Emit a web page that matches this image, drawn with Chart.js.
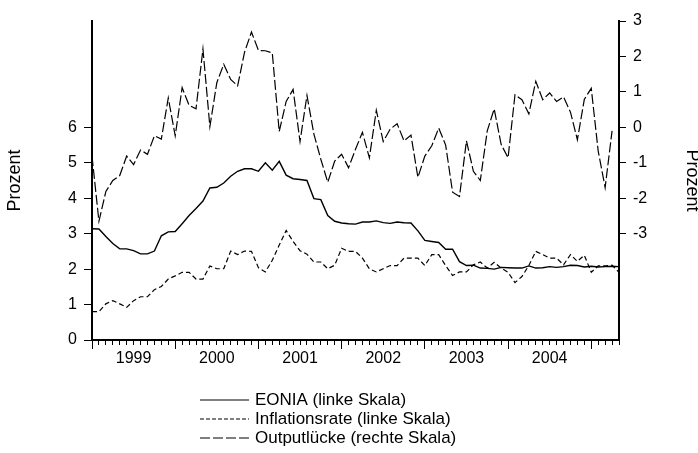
<!DOCTYPE html>
<html>
<head>
<meta charset="utf-8">
<script src="https://cdn.jsdelivr.net/npm/chart.js@4.4.1/dist/chart.umd.min.js"></script>
<style>
  html, body { margin: 0; padding: 0; background: #fff; }
  #wrap { width: 698px; height: 453px; }
</style>
</head>
<body>
<div id="wrap"><canvas id="chart" width="698" height="453"></canvas></div>
<script>
// monthly data, 1999M01 .. 2005M05 (index 0 = Jan 1999)
const yearLabels = ['1999', '2000', '2001', '2002', '2003', '2004'];

const eonia = [
  3.14, 3.13, 2.92, 2.72, 2.57, 2.57, 2.52, 2.43, 2.43, 2.51, 2.94, 3.05,
  3.06, 3.28, 3.51, 3.71, 3.92, 4.29, 4.31, 4.43, 4.62, 4.76, 4.83, 4.83,
  4.76, 5.00, 4.79, 5.04, 4.65, 4.55, 4.53, 4.50, 3.99, 3.96, 3.51, 3.35,
  3.30, 3.28, 3.27, 3.33, 3.33, 3.36, 3.31, 3.29, 3.33, 3.31, 3.30, 3.08,
  2.81, 2.78, 2.75, 2.56, 2.56, 2.21, 2.10, 2.11, 2.03, 2.02, 2.00, 2.05,
  2.04, 2.03, 2.03, 2.09, 2.03, 2.04, 2.07, 2.05, 2.07, 2.11, 2.10, 2.06,
  2.08, 2.06, 2.07, 2.08, 2.07
];

const inflation = [
  0.80, 0.80, 1.02, 1.11, 1.02, 0.92, 1.11, 1.22, 1.22, 1.42, 1.51, 1.72,
  1.81, 1.91, 1.91, 1.72, 1.72, 2.09, 2.01, 2.01, 2.51, 2.41, 2.51, 2.50,
  2.04, 1.92, 2.25, 2.68, 3.09, 2.78, 2.52, 2.42, 2.20, 2.20, 2.01, 2.11,
  2.59, 2.50, 2.50, 2.31, 2.01, 1.92, 2.01, 2.10, 2.10, 2.31, 2.31, 2.31,
  2.10, 2.41, 2.41, 2.10, 1.82, 1.92, 1.92, 2.12, 2.20, 2.03, 2.19, 2.03,
  1.91, 1.62, 1.79, 2.10, 2.50, 2.41, 2.31, 2.31, 2.12, 2.41, 2.22, 2.39,
  1.91, 2.09, 2.09, 2.11, 1.91
];

// right scale, one observation fewer
const outputGap = [
  -0.81, -2.65, -1.81, -1.50, -1.36, -0.81, -1.05, -0.64, -0.76, -0.24, -0.33, 0.83,
  -0.24, 1.12, 0.62, 0.52, 2.21, 0.02, 1.26, 1.78, 1.35, 1.17, 2.12, 2.69,
  2.17, 2.16, 2.10, -0.12, 0.73, 1.07, -0.40, 0.90, -0.19, -0.90, -1.55, -0.95,
  -0.76, -1.14, -0.62, -0.14, -0.86, 0.48, -0.40, -0.05, 0.10, -0.38, -0.22, -1.41,
  -0.81, -0.52, -0.02, -0.50, -1.83, -1.95, -0.38, -1.24, -1.50, -0.10, 0.52, -0.48,
  -0.86, 0.92, 0.78, 0.38, 1.30, 0.78, 0.97, 0.73, 0.86, 0.43, -0.35, 0.79,
  1.10, -0.67, -1.70, -0.10
];

const leftTicks = [0, 1, 2, 3, 4, 5, 6];
const rightTicks = [-3, -2, -1, 0, 1, 2, 3];
const seriesNames = ['EONIA (linke Skala)', 'Inflationsrate (linke Skala)', 'Outputlücke (rechte Skala)'];

const FONT = 'Liberation Sans, Arial, sans-serif';
Chart.defaults.font.family = FONT;
Chart.defaults.font.size = 16;
Chart.defaults.color = '#000';

const nMonths = eonia.length;
const toXY = arr => arr.map((v, i) => ({ x: i, y: v }));

// legend below the plot, one entry per row
const stackedLegend = {
  id: 'stackedLegend',
  afterDraw(chart) {
    const ctx = chart.ctx;
    const x0 = 200, x1 = 249, y0 = 400, rowH = 19;
    ctx.save();
    ctx.font = '17px ' + FONT;
    ctx.fillStyle = '#000';
    ctx.textBaseline = 'middle';
    chart.data.datasets.forEach((ds, i) => {
      const y = y0 + i * rowH;
      ctx.strokeStyle = ds.borderColor;
      ctx.lineWidth = 1.2;
      ctx.setLineDash(ds.legendDash || []);
      ctx.beginPath();
      ctx.moveTo(x0, y);
      ctx.lineTo(x1, y);
      ctx.stroke();
      ctx.setLineDash([]);
      ctx.fillText(ds.label, 255, y);
    });
    ctx.restore();
  }
};

new Chart(document.getElementById('chart'), {
  type: 'line',
  data: {
    datasets: [
      {
        label: seriesNames[0],
        data: toXY(eonia),
        yAxisID: 'y',
        borderColor: '#000',
        borderWidth: 1.4,
        pointRadius: 0,
        tension: 0
      },
      {
        label: seriesNames[1],
        data: toXY(inflation),
        yAxisID: 'y',
        borderColor: '#000',
        borderWidth: 1.2,
        borderDash: [5, 3],
        legendDash: [4, 2],
        pointRadius: 0,
        tension: 0
      },
      {
        label: seriesNames[2],
        data: toXY(outputGap),
        yAxisID: 'y1',
        borderColor: '#000',
        borderWidth: 1.2,
        borderDash: [10, 3],
        legendDash: [10, 3],
        pointRadius: 0,
        tension: 0
      }
    ]
  },
  options: {
    responsive: false,
    animation: false,
    devicePixelRatio: 1,
    layout: { padding: { top: 21, left: 0, right: 0, bottom: 0 } },
    plugins: {
      legend: { display: false },
      tooltip: { enabled: false }
    },
    scales: {
      x: {
        type: 'linear',
        position: 'bottom',
        weight: 0,
        min: 0,
        max: nMonths - 1,
        afterBuildTicks: axis => { axis.ticks = eonia.map((_, i) => ({ value: i })); },
        afterFit: axis => { axis.height = 0; },
        ticks: { display: false, autoSkip: false },
        grid: { drawOnChartArea: false, tickLength: 5, tickColor: '#000', tickWidth: 1 },
        border: { display: true, color: '#000', width: 2 }
      },
      x2: {
        type: 'linear',
        position: 'bottom',
        weight: 1,
        min: 0,
        max: nMonths - 1,
        afterBuildTicks: axis => {
          const t = [];
          for (let v = 0; v < nMonths; v += 6) t.push({ value: v });
          axis.ticks = t;
        },
        afterFit: axis => { axis.height = 113; },
        ticks: {
          autoSkip: false,
          maxRotation: 0,
          padding: 0,
          callback: v => (v % 12 === 6 ? yearLabels[(v - 6) / 12] : '')
        },
        grid: {
          drawOnChartArea: false,
          tickLength: 9,
          tickWidth: 1,
          tickColor: c => (c.tick && c.tick.value % 12 === 0 ? '#000' : 'rgba(0,0,0,0)')
        },
        border: { display: false }
      },
      y: {
        position: 'left',
        min: 0,
        max: 9,
        afterBuildTicks: axis => { axis.ticks = leftTicks.map(v => ({ value: v })); },
        afterFit: axis => { axis.width = 92; },
        ticks: { padding: 7 },
        grid: { drawOnChartArea: false, tickLength: 8, tickColor: '#000', tickWidth: 1 },
        border: { display: true, color: '#000', width: 2 },
        title: { display: true, text: 'Prozent', font: { size: 18, lineHeight: 1.2 }, padding: { top: 4, bottom: 0 } }
      },
      y1: {
        position: 'right',
        min: -6,
        max: 3,
        afterBuildTicks: axis => { axis.ticks = rightTicks.map(v => ({ value: v })); },
        afterFit: axis => { axis.width = 79; },
        ticks: { padding: 7 },
        grid: { drawOnChartArea: false, tickLength: 7, tickColor: '#000', tickWidth: 1 },
        border: { display: true, color: '#000', width: 2 },
        title: { display: true, text: 'Prozent', font: { size: 18, lineHeight: 0.7 }, padding: { top: 0, bottom: 0 } }
      }
    }
  },
  plugins: [stackedLegend]
});
</script>
</body>
</html>
